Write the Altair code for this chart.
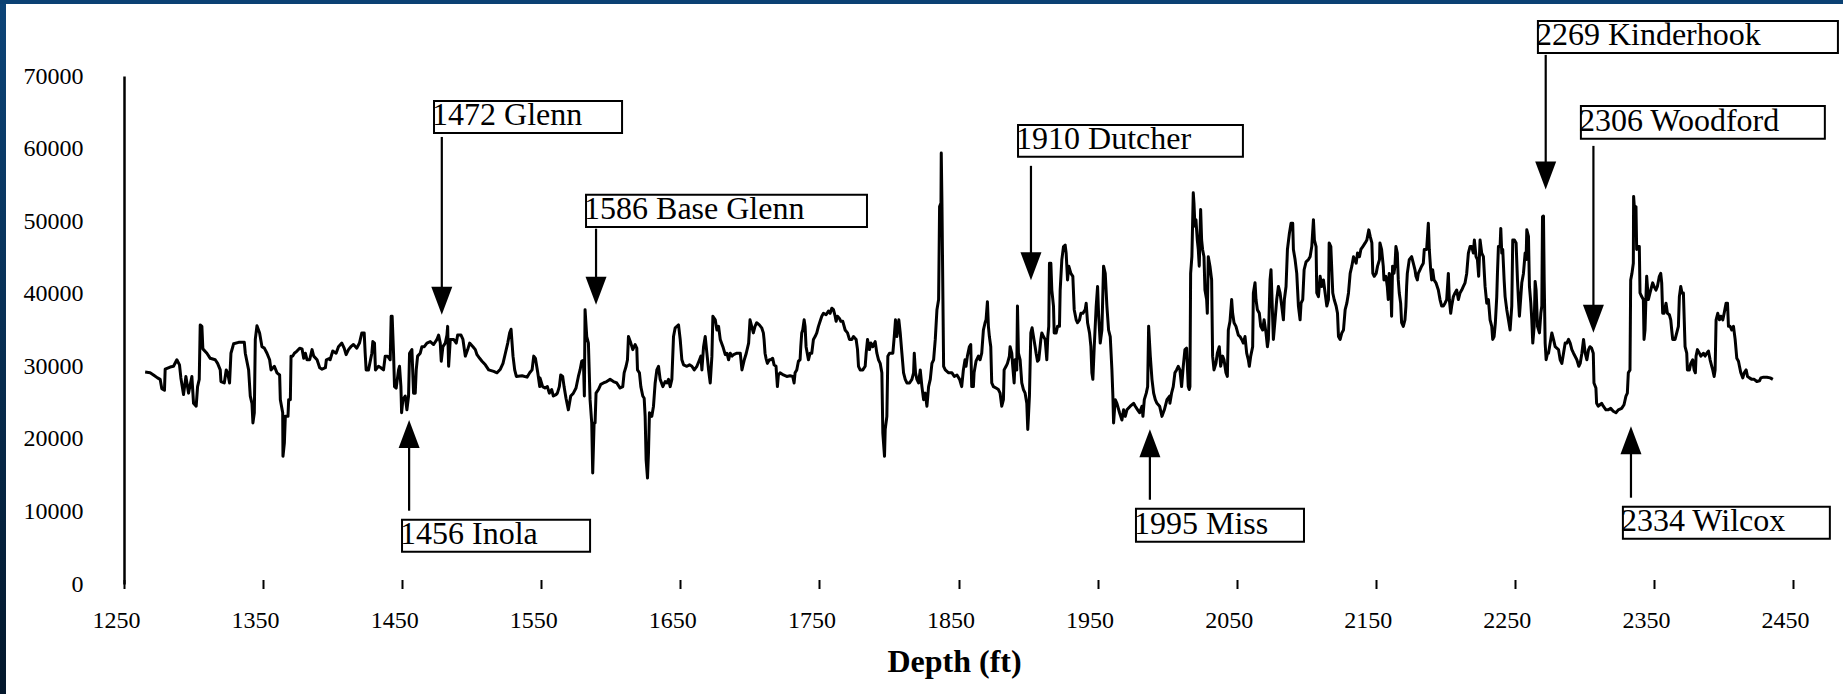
import altair as alt
import pandas as pd

# ---------------- well-log trace (depth in ft, reading) ----------------
seg1 = [(1265.2,29200),(1268.8,29100),(1271.2,28800),(1274.1,28400),(1276.0,28200),(1277.2,26900),(1279.1,26700),(1279.6,29600),(1283.2,29900),(1285.6,30000),(1288.0,30900),(1289.9,30200),(1290.9,28400),(1292.8,26100),(1294.5,28600),(1296.4,26300),(1298.8,28600),(1300.0,24900),(1301.9,24500),(1302.9,27200),(1304.1,28200),(1304.8,35700),(1306.0,35500),(1306.7,32400),(1309.6,31800),(1312.0,31100),(1315.6,30900),(1317.3,30400),(1319.2,29500),(1319.7,27900),(1322.1,27700),(1323.5,29500),(1324.5,29100),(1325.9,27700),(1326.9,31800),(1328.8,33100),(1332.4,33300),(1336.5,33300),(1337.2,31800),(1339.6,29500),(1340.8,25900),(1342.0,24900),(1342.7,22200),(1343.7,23600),(1344.4,33700),(1345.6,35600),(1347.5,34600),(1349.2,32700),(1350.9,32500),(1352.8,31800),(1354.7,30900),(1355.7,29500),(1358.1,30000),(1360.0,29100),(1361.9,28800),(1362.4,25400),(1364.1,23600),(1364.3,17600),(1365.3,19400),(1366.0,23100),(1367.9,23100),(1368.4,25400),(1369.6,25400),(1370.1,31400),(1371.3,31400),(1372.5,31800),(1374.4,32100),(1376.3,32500),(1378.0,32400),(1379.2,31100),(1380.4,31800),(1381.6,30900),(1383.5,30900),(1385.2,32300),(1386.4,31400),(1388.8,30900),(1390.7,29800),(1392.4,29600),(1394.8,29800),(1395.5,30900),(1397.9,31100)]
seg2 = [(1398.2,30900),(1400.1,32100),(1402.5,31800),(1404.2,32700),(1406.6,33200),(1408.3,32500),(1409.7,31600),(1411.4,32300),(1413.1,32700),(1415.0,33000),(1417.4,32500),(1419.3,33200),(1421.0,34600),(1422.7,34600),(1423.4,31800),(1424.1,29500),(1425.8,29500),(1428.2,31800),(1428.9,33400),(1430.1,33200),(1430.8,29500),(1433.0,30000),(1434.7,29800),(1436.6,29500),(1437.8,31400),(1439.5,31400),(1441.4,30900),(1442.1,36900),(1442.8,36900),(1443.8,31800),(1444.5,27200),(1445.7,27000),(1447.4,29500),(1448.1,30000),(1449.1,27200),(1449.6,23600),(1450.5,25400),(1452.2,25900),(1453.4,24000),(1454.6,25900),(1455.3,31800),(1457.0,32300),(1458.2,26300),(1459.4,26300),(1460.1,29500),(1461.1,31400),(1463.0,31800),(1464.2,32700),(1465.9,32700),(1467.8,33200),(1470.2,33400),(1472.6,33000),(1475.0,33700),(1476.2,34300),(1477.4,33200),(1478.1,30700),(1479.3,32700),(1481.0,33200),(1482.2,34300),(1482.7,35500),(1483.4,30000),(1484.6,33700),(1487.0,33700),(1488.9,33200),(1489.9,34300),(1492.3,34300),(1493.7,33700),(1495.4,31400),(1497.1,32300),(1498.5,33200),(1500.9,32700),(1502.6,32300),(1503.8,31600),(1505.7,31100),(1507.4,30700),(1509.8,30200),(1512.2,29500),(1515.8,29300),(1518.2,29100),(1520.6,29600),(1522.5,30400),(1524.2,31800),(1525.9,33200),(1527.3,34600),(1528.3,35100),(1529.7,31400),(1530.9,29500),(1532.1,28600),(1536.2,28700),(1539.8,28500),(1541.7,29100),(1543.4,29500),(1544.6,31400),(1545.8,31100),(1547.5,29100),(1548.9,27200)]
seg3 = [(1549.1,28400),(1551.0,27200),(1552.7,27000),(1554.4,27200),(1555.8,26300),(1557.5,26800),(1558.7,25900),(1560.6,26100),(1561.6,26300),(1563.0,27200),(1564.0,28800),(1565.4,28600),(1566.4,27200),(1567.8,25600),(1569.5,24000),(1571.2,25900),(1573.1,26300),(1575.0,27000),(1576.7,28600),(1577.9,29500),(1579.1,30700),(1580.3,30800),(1581.0,25900),(1581.5,37800),(1582.7,34100),(1583.9,33200),(1585.1,25400),(1586.3,22200),(1587.0,15300),(1588.0,22200),(1588.7,22200),(1589.4,26300),(1591.1,26800),(1592.8,27500),(1594.7,27700),(1597.1,27900),(1599.5,28200),(1601.9,27900),(1604.3,27700),(1606.7,27000),(1608.6,27200),(1609.6,29100),(1611.0,30000),(1612.0,30900),(1612.7,34100),(1614.4,33200),(1615.8,32300),(1617.5,33000),(1618.7,32500),(1619.2,29500),(1620.6,29100),(1621.6,27200),(1623.0,25900),(1624.0,25600),(1624.7,23100),(1625.4,17100),(1626.4,14600),(1627.1,18100),(1627.8,23600),(1629.5,23100),(1630.7,24500),(1631.9,27700),(1633.1,29500),(1634.3,30000),(1635.5,28200),(1637.4,27200),(1639.1,27900),(1640.3,27700),(1641.5,28200),(1642.7,27200),(1643.9,28200),(1645.1,34100),(1646.3,35300),(1647.5,35500),(1648.7,35700),(1649.9,33700),(1651.1,30900),(1652.3,30200),(1654.7,30000),(1656.6,30200),(1658.3,30000),(1660.0,29500),(1661.9,30000),(1663.8,30900),(1664.8,31400),(1665.5,29500),(1666.7,32700),(1667.9,34100),(1669.1,31800),(1670.3,29500),(1671.5,27700),(1672.7,31400),(1673.4,36900),(1675.1,36400),(1676.3,35000),(1677.5,35500),(1678.7,33700),(1680.6,32700),(1682.3,31600),(1683.5,31800),(1684.7,30900),(1685.9,31800),(1687.1,31400),(1688.3,31600),(1690.7,31800),(1693.1,31800),(1694.3,29500),(1696.0,30900),(1697.4,31800),(1699.1,33200)]
seg4 = [(1700.1,36400),(1701.3,35500),(1702.5,34600),(1703.7,35500),(1704.9,36000),(1706.8,35700),(1708.5,35300),(1709.7,34600),(1710.2,33700),(1710.9,31800),(1711.6,31100),(1712.6,30400),(1714.0,30900),(1715.0,30900),(1716.4,31100),(1717.4,30200),(1718.8,30000),(1719.8,27200),(1720.5,28800),(1721.7,29100),(1724.1,28800),(1726.5,28600),(1728.9,28700),(1730.8,28600),(1731.8,27700),(1732.5,29100),(1733.7,29500),(1734.9,30700),(1736.1,30900),(1736.6,32700),(1737.3,34600),(1738.0,35000),(1739.0,36400),(1739.7,35500),(1740.4,32700),(1742.1,30900),(1743.3,31800),(1744.5,31800),(1745.7,33700),(1746.9,34100),(1748.1,34600),(1749.3,35500),(1750.5,36200),(1751.7,36900),(1752.9,37300),(1754.8,37100),(1756.5,37600),(1757.7,37300),(1758.9,38000),(1760.1,37800),(1761.3,36900),(1762.0,36200),(1763.0,36900),(1764.4,36600),(1765.4,36200),(1766.8,36200),(1768.5,35000),(1770.2,34600),(1771.6,33700),(1773.3,33700),(1774.5,34100),(1776.4,33700),(1777.4,32300),(1778.1,30000),(1779.3,29500),(1781.2,29500),(1782.9,30000),(1783.6,31800),(1784.6,33700),(1786.0,32300),(1787.0,33200),(1788.4,32700),(1790.1,33400),(1791.3,31800),(1792.5,30900),(1793.7,30400),(1794.9,29100),(1795.6,20800),(1796.8,17600),(1797.3,21300),(1798.5,23100),(1799.2,31400),(1800.4,31800),(1802.8,31800),(1803.8,34100),(1804.7,36400),(1805.7,34100),(1807.1,36400),(1808.1,34600),(1809.3,31800),(1810.5,29100),(1811.7,28200),(1812.9,27700),(1814.8,27700),(1816.5,28200),(1817.7,29100),(1818.2,31800),(1819.1,29100),(1820.1,28200),(1821.3,27700),(1822.5,29500),(1823.7,27200),(1824.9,25400),(1826.1,26300),(1827.3,24500),(1828.5,27200),(1829.7,28200),(1830.9,30400),(1832.1,30900),(1833.3,33700),(1834.5,37800),(1835.7,39200),(1836.4,52000),(1837.4,52500),(1837.6,59400),(1838.1,52500),(1838.8,39200),(1839.3,30000),(1840.5,29500),(1842.9,29100),(1845.3,29100),(1847.0,28600),(1848.9,28800),(1850.8,28200)]
seg5 = [(1852.3,27200),(1853.5,29500),(1854.7,30900),(1855.4,30000),(1856.4,31400),(1857.8,32700),(1858.8,33000),(1859.5,27200),(1860.7,27200),(1861.2,29100),(1862.6,30700),(1864.3,31400),(1865.5,30900),(1866.7,31800),(1867.9,35000),(1869.1,36000),(1869.8,36400),(1870.8,38900),(1871.5,35500),(1872.2,34100),(1873.2,32700),(1873.9,27700),(1875.1,27200),(1877.0,27000),(1878.7,26800),(1879.9,26300),(1881.1,24500),(1882.3,25400),(1882.8,29500),(1884.2,30000),(1885.2,30400),(1886.6,31400),(1887.1,32700),(1888.3,31800),(1889.0,30000),(1890.0,27700),(1890.7,30900),(1891.9,29500),(1892.4,38300),(1893.1,31800),(1894.3,30900),(1895.5,27700),(1896.7,26800),(1897.9,26300),(1899.1,24900),(1899.8,21300),(1900.3,23100),(1901.0,25900),(1902.0,34600),(1902.9,35300),(1903.9,34100),(1905.1,32700),(1905.8,31800),(1906.8,30700),(1907.7,30900),(1908.2,31800),(1909.2,33700),(1909.9,34600),(1911.1,34100),(1912.3,33700),(1913.5,30900),(1914.2,34100),(1914.9,35500),(1915.4,44200),(1916.4,44200),(1917.1,40500),(1918.3,38300),(1918.8,34600),(1920.2,34600),(1921.2,35500),(1922.6,35500),(1923.1,40500),(1924.3,44700),(1925.5,46500),(1926.7,46700),(1927.4,45600),(1928.4,41900),(1929.3,43800),(1930.8,42800),(1932.2,42400),(1933.2,37800),(1934.6,36400),(1935.6,36000),(1937.0,36400),(1938.0,37300),(1939.4,37300),(1941.1,37800),(1941.8,38700),(1942.8,36000),(1944.2,34600),(1945.2,32700),(1945.9,29100),(1946.6,28200),(1947.6,32700),(1949.0,38300),(1950.0,41000),(1950.7,37300),(1951.9,33200),(1953.1,35000),(1954.3,43800),(1955.5,42800),(1956.7,38300),(1957.9,35000),(1959.1,34100),(1960.3,29500),(1961.0,25900),(1961.5,22200),(1962.7,25400),(1963.9,24900),(1965.8,23600),(1967.5,22600),(1968.7,24000),(1969.9,23100),(1971.1,24000),(1973.5,24500),(1975.9,24900),(1977.1,24500),(1978.8,24000),(1980.2,23600),(1981.9,24500),(1982.6,23100),(1983.6,25400),(1985.0,26300),(1986.0,27200),(1986.7,35500),(1987.9,31400),(1989.1,28200),(1990.3,26300),(1991.5,25400),(1992.7,24900),(1994.6,24500),(1996.3,23100),(1998.0,24000),(1999.9,25400),(2001.8,25900)]
seg6 = [(2002.0,24900),(2003.2,26300),(2004.4,27200),(2005.6,29100),(2006.8,29500),(2008.0,30000),(2009.2,29500),(2010.4,27200),(2011.6,30000),(2012.8,32300),(2014.0,32500),(2015.2,27200),(2015.9,26800),(2016.4,27200),(2016.9,42800),(2017.8,45100),(2018.8,53900),(2019.3,52500),(2020.0,49300),(2020.7,50200),(2021.7,47400),(2022.4,46100),(2023.1,43800),(2024.1,51600),(2024.8,47400),(2025.5,46100),(2026.5,45100),(2027.2,40500),(2028.4,39200),(2028.9,37300),(2029.6,45100),(2030.8,43800),(2032.0,41900),(2032.7,31400),(2033.7,29500),(2035.1,30400),(2036.1,31800),(2037.5,32700),(2038.5,30000),(2039.9,31400),(2040.9,30900),(2042.3,29100),(2043.3,28600),(2044.0,35000),(2045.2,36200),(2046.4,39200),(2047.1,37300),(2048.1,36000),(2049.5,35500),(2051.2,34300),(2052.4,34100),(2053.6,33700),(2054.8,33200),(2056.0,34100),(2057.2,31800),(2058.4,30900),(2059.1,30000),(2060.1,31400),(2061.5,32700),(2062.0,40100),(2063.2,41500),(2063.9,39200),(2064.9,37800),(2066.3,37300),(2067.3,35500),(2068.7,35000),(2069.7,36400),(2071.1,34600),(2072.1,32700),(2072.8,33700),(2074.0,41900),(2074.7,43300),(2075.2,40500),(2076.4,33700),(2077.6,36400),(2078.8,39200),(2080.0,41000),(2081.2,40100),(2082.4,38300),(2083.6,36400),(2084.3,39200),(2085.5,41000),(2086.5,46100),(2087.9,48300),(2089.1,49700),(2090.3,49700),(2090.8,46100),(2092.0,44700),(2093.2,42800),(2094.4,38300),(2095.6,36400),(2096.3,38700),(2097.5,39200),(2098.5,43300),(2099.9,44400),(2101.6,44700),(2102.8,45100),(2104.0,46500),(2105.2,50200),(2105.9,47400),(2107.1,46500),(2107.6,40100),(2108.8,39600),(2110.0,42400),(2111.2,41000),(2112.4,41900),(2113.6,40100),(2114.8,38300),(2116.0,39200),(2116.5,47000),(2117.7,46500),(2119.1,40100),(2120.1,39200),(2121.5,38300),(2122.5,37300),(2123.2,34100),(2124.4,33700),(2125.6,34600),(2126.8,35000),(2128.0,37800),(2129.2,38700),(2130.4,40100),(2131.6,42800),(2132.8,43800),(2134.0,45100),(2135.9,44200),(2136.9,45600),(2138.3,45100),(2139.3,46100),(2140.7,46500),(2142.4,47000),(2143.6,47400),(2145.0,48800),(2146.0,47900),(2147.2,47000),(2147.9,42800),(2148.9,42400),(2150.3,42800),(2151.3,43800),(2152.7,44700)]
seg7 = [(2153.0,47000),(2154.2,46100),(2155.4,43800),(2155.9,41900),(2157.3,42400),(2158.3,41000),(2159.0,39200),(2159.7,42800),(2160.7,41900),(2161.4,36900),(2162.1,43800),(2163.1,42800),(2163.8,43800),(2164.5,46500),(2165.5,45600),(2166.2,41900),(2166.9,40100),(2167.9,38700),(2168.6,36000),(2169.8,35500),(2171.0,36400),(2171.7,38300),(2172.2,41000),(2172.7,42800),(2174.1,44700),(2175.8,45100),(2177.0,44200),(2178.2,43300),(2178.9,42400),(2179.9,41900),(2180.6,42800),(2181.8,43300),(2183.0,43800),(2184.2,44200),(2184.9,46100),(2186.6,46100),(2187.8,49700),(2188.5,46100),(2189.5,43300),(2190.2,41900),(2190.9,43300),(2191.9,41900),(2193.3,41500),(2195.0,40500),(2196.2,39200),(2197.4,38300),(2198.6,38300),(2199.8,38700),(2201.0,39200),(2202.2,42800),(2202.9,39200),(2203.9,37300),(2204.6,38300),(2205.8,39600),(2207.0,40100),(2208.2,40500),(2209.4,39200),(2210.6,40100),(2211.8,40500),(2213.0,41000),(2214.2,41500),(2215.4,42800),(2216.6,45600),(2217.8,46500),(2219.0,46500),(2220.2,45600),(2220.9,47400),(2222.1,45100),(2223.1,44700),(2224.0,42400),(2225.0,47400),(2226.2,45600),(2227.4,45100),(2228.6,41000),(2229.8,38700),(2231.0,39200),(2232.2,36400),(2233.4,35500),(2234.1,33700),(2235.1,34100),(2236.0,36000),(2237.0,39600),(2237.5,42800),(2238.2,46500),(2239.4,46500),(2239.9,49000),(2240.6,45600),(2241.3,46100),(2242.3,41900),(2243.0,39600),(2244.2,37800),(2245.4,36400),(2246.6,35000),(2247.8,38300),(2248.5,47400),(2249.7,47400),(2250.9,47000),(2251.9,41900),(2252.6,39200),(2253.3,36900),(2254.3,39600),(2255.0,41500),(2256.2,42800),(2257.4,45600),(2258.1,44700),(2258.6,48800),(2259.8,47900),(2260.5,41000),(2261.5,38700),(2262.2,36400),(2262.9,33200),(2263.9,35500),(2264.6,41700),(2265.3,40500),(2266.3,35500),(2267.7,34600),(2268.7,37300),(2269.4,38300),(2269.9,50600),(2270.6,50700),(2271.1,41900),(2271.8,33200),(2272.5,30900),(2273.5,31800),(2274.2,31800),(2275.4,33200),(2276.6,34600),(2277.8,33700),(2279.0,32700),(2280.2,32500),(2281.4,32300),(2282.6,30900),(2283.8,30400),(2285.0,31800),(2286.2,33200),(2287.4,33200),(2288.6,33700),(2289.8,33200),(2291.0,32300),(2292.2,31800),(2294.6,30900),(2296.0,30000),(2297.0,30400),(2298.2,31800),(2299.4,33700),(2300.6,31800),(2301.8,30900),(2303.0,32300)]
seg8 = [(2304.0,32700),(2305.2,32500),(2306.4,31800),(2306.9,27700),(2308.3,27000),(2308.8,24900),(2310.0,24500),(2311.2,24700),(2312.4,24900),(2313.6,24500),(2315.5,24000),(2317.2,24000),(2318.9,24200),(2320.8,23800),(2322.7,23600),(2324.4,24000),(2326.8,24200),(2328.5,24700),(2329.9,25900),(2330.9,26300),(2331.6,29100),(2332.8,29500),(2333.3,41900),(2334.2,42800),(2335.2,44200),(2335.4,53400),(2335.9,52000),(2336.6,50600),(2337.1,52000),(2337.6,46100),(2338.8,46500),(2339.5,46500),(2340.0,40100),(2341.2,39600),(2342.4,39200),(2342.9,33700),(2343.6,35000),(2344.3,39600),(2344.8,42400),(2346.0,39200),(2347.2,40100),(2348.4,41000),(2349.1,41500),(2350.1,41000),(2351.5,40500),(2352.5,41000),(2353.9,42400),(2354.9,42800),(2355.6,41500),(2356.3,37300),(2357.3,37300),(2358.7,38700),(2359.7,37300),(2361.1,37100),(2362.1,36400),(2362.8,35000),(2363.5,33700),(2365.2,33700),(2366.4,34600),(2367.6,35500),(2368.3,39600),(2369.3,41000),(2370.2,40100),(2371.2,40100),(2372.4,32700),(2373.6,31800),(2374.1,29500),(2375.5,29500),(2376.5,30400),(2377.9,30900),(2378.9,29500),(2379.8,29100),(2380.3,31400),(2381.3,32300),(2382.7,31800),(2383.7,31400),(2385.6,31800),(2386.8,31400),(2388.0,31800),(2389.2,32100),(2390.4,30900),(2391.6,30000),(2392.3,29500),(2393.3,28600),(2394.0,29500),(2394.7,36400),(2395.9,37300),(2397.1,36400),(2398.1,36900),(2399.5,36400),(2400.5,37300),(2401.9,38700),(2402.9,38700),(2403.6,35500),(2404.8,35500),(2406.0,35000),(2407.2,35500),(2408.4,33700),(2409.6,31100),(2410.8,30700),(2411.5,30000),(2412.5,29100),(2413.9,28400),(2414.9,29100),(2416.3,29500),(2417.3,28600),(2418.7,28400),(2420.4,28200),(2422.1,28200),(2424.0,27900),(2425.9,28000),(2426.9,28400),(2428.8,28500),(2431.2,28500),(2433.6,28400),(2435.5,28200)]

# ---------------- formation tops (annotations) ----------------
top_labels   = ["1472 Glenn", "1456 Inola", "1586 Base Glenn", "1910 Dutcher",
                "1995 Miss", "2269 Kinderhook", "2306 Woodford", "2334 Wilcox"]
box_left     = [1472.9, 1449.9, 1582.2, 1892.8, 1977.6, 2266.6, 2297.5, 2327.7]
box_right    = [1608.1, 1585.1, 1784.2, 2054.5, 2098.4, 2482.3, 2472.9, 2476.5]
box_top      = [66570, 8860, 53620, 63260, 10370, 77590, 65880, 10650]
box_bottom   = [62160, 4450, 49210, 58860, 5830, 73180, 61340, 6240]
arrow_depth  = [1478.5, 1455.0, 1589.4, 1902.1, 1987.6, 2272.2, 2306.5, 2333.5]
arrow_from   = [61600, 10100, 48960, 57620, 11610, 72910, 60370, 11890]
arrow_head   = [39030, 20670, 40420, 43780, 19400, 56280, 36560, 19820]
arrow_dir    = ["down", "up", "down", "down", "up", "down", "down", "up"]

# ---------------- axis tick labels ----------------
x_ticks = [1250, 1350, 1450, 1550, 1650, 1750, 1850, 1950, 2050, 2150, 2250, 2350, 2450]
y_ticks = [0, 10000, 20000, 30000, 40000, 50000, 60000, 70000]

# ---------------- build tables ----------------
pts = []
for seg in [seg1, seg2, seg3, seg4, seg5, seg6, seg7, seg8]:
    pts.extend(seg)
log_df = pd.DataFrame({"depth": [p[0] for p in pts],
                       "value": [p[1] for p in pts],
                       "order": list(range(len(pts)))})
ann_df = pd.DataFrame({"label": top_labels, "left": box_left, "right": box_right,
                       "top": box_top, "bottom": box_bottom, "ax": arrow_depth,
                       "afrom": arrow_from, "ahead": arrow_head, "dir": arrow_dir})
one = pd.DataFrame({"k": [0]})

FONT = "Liberation Serif"
W, H = 1669, 508
PAD_L, PAD_T, PAD_R, PAD_B = 124, 76, 50, 110

xs = alt.Scale(domain=[1250, 2450], nice=False, zero=False)
ys = alt.Scale(domain=[0, 70000], nice=False, zero=False)

X_AXIS = alt.Axis(values=x_ticks, format="d", title="Depth (ft)", grid=False,
                  domain=False, ticks=True, tickSize=9, tickWidth=2, tickColor="black",
                  offset=-4.5, labelFont=FONT, labelFontSize=24, labelColor="black",
                  labelPadding=20, labelOffset=-8, labelFlush=False, labelOverlap=False,
                  titleFont=FONT, titleFontSize=32, titleFontWeight="bold",
                  titleColor="black", titleX=830, titleY=92, titleBaseline="alphabetic")
Y_AXIS = alt.Axis(values=y_ticks, format="d", title="", grid=False,
                  domain=True, domainColor="black", domainWidth=2.5,
                  ticks=False, tickSize=0, labelFont=FONT, labelFontSize=24,
                  labelColor="black", labelPadding=41, labelFlush=False,
                  labelOverlap=False)

# slide frame: dark blue strips along the left and top edges
left_strip = alt.Chart(one).mark_rect(
    fill=alt.Gradient(gradient="linear",
                      stops=[alt.GradientStop(color="#0c4478", offset=0),
                             alt.GradientStop(color="#03172b", offset=1)],
                      x1=0, x2=0, y1=0, y2=1)
).encode(x=alt.value(-PAD_L), x2=alt.value(-PAD_L + 6),
         y=alt.value(-PAD_T), y2=alt.value(H + PAD_B))
top_strip = alt.Chart(one).mark_rect(fill="#0b4173").encode(
    x=alt.value(-PAD_L), x2=alt.value(W + PAD_R),
    y=alt.value(-PAD_T), y2=alt.value(-PAD_T + 4))

line = alt.Chart(log_df).mark_line(color="black", strokeWidth=3, strokeJoin="round").encode(
    x=alt.X("depth:Q", scale=xs, axis=X_AXIS),
    y=alt.Y("value:Q", scale=ys, axis=Y_AXIS),
    order="order:Q",
)

boxes = alt.Chart(ann_df).mark_rect(fill="white", stroke="black", strokeWidth=2).encode(
    x=alt.X("left:Q", scale=xs, axis=X_AXIS), x2="right:Q",
    y=alt.Y("top:Q", scale=ys, axis=Y_AXIS), y2="bottom:Q")

texts = alt.Chart(ann_df).mark_text(align="left", baseline="alphabetic", dx=-2, dy=-8,
                                    font=FONT, fontSize=32, color="black").encode(
    x=alt.X("left:Q", scale=xs, axis=X_AXIS),
    y=alt.Y("bottom:Q", scale=ys, axis=Y_AXIS),
    text="label:N")

shafts = alt.Chart(ann_df).mark_rule(color="black", strokeWidth=2.2).encode(
    x=alt.X("ax:Q", scale=xs, axis=X_AXIS),
    y=alt.Y("afrom:Q", scale=ys, axis=Y_AXIS), y2="ahead:Q")

heads = alt.Chart(ann_df).mark_point(filled=True, size=784, color="black", opacity=1,
                                     strokeWidth=0).encode(
    x=alt.X("ax:Q", scale=xs, axis=X_AXIS),
    y=alt.Y("ahead:Q", scale=ys, axis=Y_AXIS),
    shape=alt.Shape("dir:N", legend=None,
                    scale=alt.Scale(domain=["down", "up"],
                                    range=["M-0.75,-1L0.75,-1L0,1Z", "M-0.75,1L0.75,1L0,-1Z"])))

chart = alt.layer(line, boxes, texts, shafts, heads, left_strip, top_strip).properties(
    width=W, height=H,
    padding={"left": PAD_L, "top": PAD_T, "right": PAD_R, "bottom": PAD_B},
    autosize=alt.AutoSizeParams(type="none"),
).configure_view(stroke="transparent")

chart.save("out.html", embed_options={"renderer": "svg", "actions": False})
